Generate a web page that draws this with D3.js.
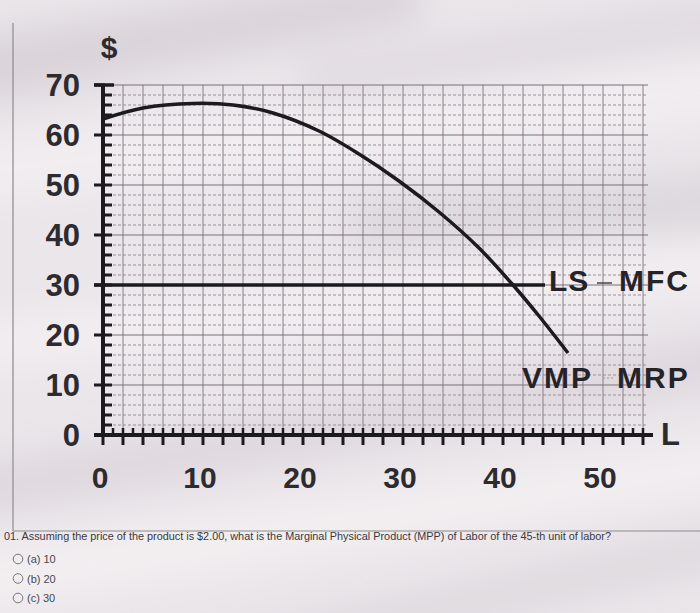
<!DOCTYPE html>
<html>
<head>
<meta charset="utf-8">
<script src="https://cdn.jsdelivr.net/npm/d3@7"></script>
<style>
html,body{margin:0;padding:0;background:#ece7eb;}
svg{display:block;}
</style>
</head>
<body>
<svg id="chart" width="700" height="613"></svg>
<script>
// ---- data ----
const vmpL = [0, 4, 9, 13, 17, 21.6, 25.6, 29.6, 33.6, 37.6, 41, 43.6, 46.5];
const vmpV = [63.2, 65.4, 66.3, 66, 64.4, 60.8, 56.2, 50.8, 44.6, 37.4, 30, 23.8, 16.4];
const wage = 30;
const lsEndL = 44.2;
const yTickLabels = [0, 10, 20, 30, 40, 50, 60, 70];
const xTickLabels = [0, 10, 20, 30, 40, 50];
const question = "01. Assuming the price of the product is $2.00, what is the Marginal Physical Product (MPP) of Labor of the 45-th unit of labor?";
const options = ["(a) 10", "(b) 20", "(c) 30"];

const svg = d3.select("#chart");
const W = 700, H = 613;

// ---- background (photo of screen) ----
const defs = svg.append("defs");
defs.append("filter").attr("id","blur").attr("x","-20%").attr("y","-20%").attr("width","140%").attr("height","140%")
  .append("feGaussianBlur").attr("stdDeviation", 18);
svg.append("rect").attr("width",W).attr("height",H).attr("fill","#ebe6ea");
const bg = svg.append("g").attr("filter","url(#blur)");
const bands = [
  {pts:[[-50,40],[420,-30],[420,20],[-50,110]], c:"#d6d0d6", o:0.8},
  {pts:[[300,60],[760,-10],[760,40],[300,110]], c:"#dcd6dc", o:0.6},
  {pts:[[-50,150],[760,60],[760,110],[-50,200]], c:"#f5f2f4", o:0.7},
  {pts:[[350,200],[760,170],[760,230],[350,250]], c:"#d4ced4", o:0.6},
  {pts:[[-50,330],[760,240],[760,280],[-50,370]], c:"#f6f3f5", o:0.7},
  {pts:[[-50,470],[760,330],[760,380],[-50,520]], c:"#d8d2d8", o:0.7},
  {pts:[[-50,560],[760,440],[760,480],[-50,610]], c:"#f5f2f4", o:0.8},
  {pts:[[200,640],[760,520],[760,560],[200,680]], c:"#d6d0d6", o:0.6}
];
bg.selectAll("path").data(bands).join("path")
  .attr("d", d => "M" + d.pts.map(p => p.join(",")).join("L") + "Z")
  .attr("fill", d => d.c).attr("opacity", d => d.o);

// ---- scales ----
const x = d3.scaleLinear().domain([0, 55]).range([103, 653]);
const y = d3.scaleLinear().domain([0, 70]).range([435, 85]);
const gridRight = x(54.5);

// ---- page frame ----
svg.append("line").attr("x1",13).attr("x2",13).attr("y1",23).attr("y2",531)
  .attr("stroke","#8c8a8c").attr("stroke-width",1.2);
svg.append("line").attr("x1",13).attr("x2",700).attr("y1",531).attr("y2",531)
  .attr("stroke","#8c8a8c").attr("stroke-width",1.2);

// ---- grid ----
const g = svg.append("g");
const vGrid = d3.range(2, 55, 2);
g.selectAll(".vg").data(vGrid).join("line")
  .attr("x1", d => x(d)).attr("x2", d => x(d)).attr("y1", y(70)).attr("y2", y(0))
  .attr("stroke","#8a7d88").attr("stroke-width",1);
const hDash = d3.range(2, 70, 2).filter(d => d % 10 !== 0);
g.selectAll(".hd").data(hDash).join("line")
  .attr("x1", x(0)).attr("x2", gridRight).attr("y1", d => y(d)).attr("y2", d => y(d))
  .attr("stroke","#9b8f99").attr("stroke-width",1).attr("stroke-dasharray","3,2");
g.selectAll(".hs").data(d3.range(10, 71, 10)).join("line")
  .attr("x1", x(0)).attr("x2", gridRight).attr("y1", d => y(d)).attr("y2", d => y(d))
  .attr("stroke","#7c707a").attr("stroke-width",1.2);

// ---- axes ----
const ink = "#1c1a1e";
const ax = svg.append("g");
ax.append("line").attr("x1", x(0)).attr("x2", x(0)).attr("y1", y(70)).attr("y2", y(0) + 2)
  .attr("stroke", ink).attr("stroke-width", 4);
ax.selectAll(".yr").data(d3.range(2, 70, 2)).join("line")
  .attr("x1", x(0)).attr("x2", x(0) + 9).attr("y1", d => y(d)).attr("y2", d => y(d))
  .attr("stroke", ink).attr("stroke-width", 3);
ax.selectAll(".yl").data(yTickLabels).join("line")
  .attr("x1", x(0) - 9).attr("x2", x(0) + 2).attr("y1", d => y(d)).attr("y2", d => y(d))
  .attr("stroke", ink).attr("stroke-width", 3);
ax.append("line").attr("x1", x(0) - 9).attr("x2", x(0) + 11).attr("y1", y(70)).attr("y2", y(70))
  .attr("stroke", ink).attr("stroke-width", 3.5);
ax.append("line").attr("x1", x(0) - 9).attr("x2", x(55)).attr("y1", y(0)).attr("y2", y(0))
  .attr("stroke", ink).attr("stroke-width", 4);
ax.selectAll(".xu").data(d3.range(1, 55, 1)).join("line")
  .attr("x1", d => x(d)).attr("x2", d => x(d)).attr("y1", y(0)).attr("y2", y(0) - 7)
  .attr("stroke", ink).attr("stroke-width", 2.5);
ax.selectAll(".xd").data(d3.range(0, 55, 2)).join("line")
  .attr("x1", d => x(d)).attr("x2", d => x(d)).attr("y1", y(0)).attr("y2", y(0) + 10)
  .attr("stroke", ink).attr("stroke-width", 3);

// tick labels
const labFont = "'Liberation Sans', Arial, sans-serif";
svg.append("g").selectAll("text").data(yTickLabels).join("text")
  .attr("x", 80).attr("y", d => y(d)).attr("dy", "0.36em")
  .attr("text-anchor", "end").attr("font-family", labFont).attr("font-weight", "bold")
  .attr("font-size", 31).attr("fill", "#2e2b30").text(d => d);
svg.append("g").selectAll("text").data(xTickLabels).join("text")
  .attr("x", d => x(d) - 3).attr("y", 488)
  .attr("text-anchor", "middle").attr("font-family", labFont).attr("font-weight", "bold")
  .attr("font-size", 30).attr("fill", "#2e2b30").text(d => d);

svg.append("text").attr("x", x(0) + 6).attr("y", 58).attr("text-anchor", "middle")
  .attr("font-family", labFont).attr("font-weight", "bold").attr("font-size", 30)
  .attr("fill", "#2e2b30").text("$");
svg.append("text").attr("x", 661).attr("y", 445)
  .attr("font-family", labFont).attr("font-weight", "bold").attr("font-size", 31)
  .attr("fill", "#2e2b30").text("L");

// ---- LS (wage) line ----
svg.append("line").attr("x1", x(0) - 9).attr("x2", x(lsEndL)).attr("y1", y(wage)).attr("y2", y(wage))
  .attr("stroke", ink).attr("stroke-width", 3.5);

// ---- VMP curve ----
const pts = vmpL.map((l, i) => [l, vmpV[i]]);
svg.append("path").datum(pts)
  .attr("d", d3.line().x(d => x(d[0])).y(d => y(d[1])).curve(d3.curveCatmullRom.alpha(0.5)))
  .attr("fill", "none").attr("stroke", ink).attr("stroke-width", 3.5).attr("stroke-linecap","butt");

// ---- curve labels ----
const cl = svg.append("g").attr("font-family", labFont).attr("font-weight", "bold")
  .attr("font-size", 30).attr("fill", "#262328");
cl.append("text").attr("x", 549).attr("y", 291).attr("letter-spacing", 1).text("LS");
cl.append("text").attr("x", 619).attr("y", 291).attr("letter-spacing", 2).text("MFC");
cl.append("text").attr("x", 522).attr("y", 388).attr("letter-spacing", 2).text("VMP");
cl.append("text").attr("x", 617).attr("y", 388).attr("letter-spacing", 2).text("MRP");
svg.append("line").attr("x1", 597).attr("x2", 612).attr("y1", 283).attr("y2", 283)
  .attr("stroke", "#444").attr("stroke-width", 1.5);
svg.append("line").attr("x1", 603).attr("x2", 614).attr("y1", 378).attr("y2", 378)
  .attr("stroke", "#999").attr("stroke-width", 1).attr("stroke-dasharray", "2,2");

// ---- question ----
svg.append("text").attr("x", 4).attr("y", 540)
  .attr("font-family", "'Liberation Sans Narrow', 'Liberation Sans', Arial, sans-serif")
  .attr("font-size", 11).attr("fill", "#3a3840")
  .attr("textLength", 607).attr("lengthAdjust", "spacingAndGlyphs")
  .text(question);
const og = svg.append("g").selectAll("g").data(options).join("g")
  .attr("transform", (d, i) => `translate(0, ${559 + i * 19.5})`);
og.append("circle").attr("cx", 18).attr("cy", 0).attr("r", 4.8)
  .attr("fill", "none").attr("stroke", "#777").attr("stroke-width", 1);
og.append("text").attr("x", 27).attr("y", 4)
  .attr("font-family", "'Liberation Sans Narrow', 'Liberation Sans', Arial, sans-serif")
  .attr("font-size", 11).attr("fill", "#4a4850").text(d => d);
</script>
</body>
</html>
